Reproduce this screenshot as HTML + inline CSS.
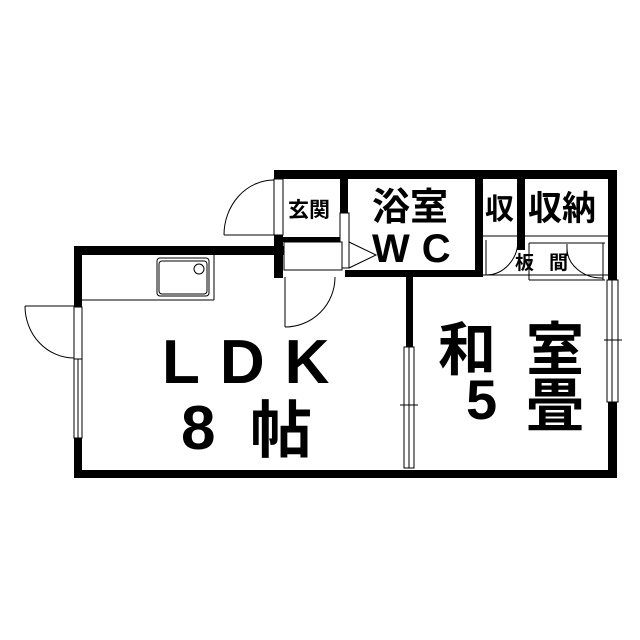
<!DOCTYPE html>
<html><head><meta charset="utf-8"><style>
html,body{margin:0;padding:0;background:#fff;}
svg{display:block}
text{font-family:"Liberation Sans","Noto Sans CJK JP",sans-serif;fill:#000;font-weight:bold}
</style></head><body>
<svg width="640" height="640" viewBox="0 0 640 640" xmlns="http://www.w3.org/2000/svg">
<rect width="640" height="640" fill="#fff"/>
<g fill="#000">
<rect x="274" y="170" width="343" height="9"/>
<rect x="608" y="170" width="9" height="308"/>
<rect x="274" y="235" width="9" height="43"/>
<rect x="283" y="237" width="60" height="5"/>
<rect x="340" y="179" width="8" height="34"/>
<rect x="345" y="270" width="138" height="7"/>
<rect x="475" y="170" width="8" height="107"/>
<rect x="517" y="170" width="8" height="80"/>
<rect x="74" y="246" width="210" height="9"/>
<rect x="74" y="246" width="8" height="62"/>
<rect x="74" y="437" width="8" height="41"/>
<rect x="74" y="470" width="543" height="8"/>
<rect x="406" y="277" width="7" height="70"/>
</g>
<g fill="#fff" stroke="#000" stroke-width="1">
<rect x="274" y="179" width="9" height="56"/>
<rect x="340" y="213" width="9" height="55"/>
<rect x="284" y="242" width="58" height="28"/>
<rect x="74" y="307" width="8" height="52"/>
<rect x="74" y="359" width="8" height="79"/>
<line x1="78" y1="359" x2="78" y2="438"/>
<rect x="404" y="347" width="10" height="121"/>
<line x1="409" y1="347" x2="409" y2="468"/>
<line x1="400" y1="405" x2="418" y2="405"/>
<rect x="607" y="280" width="11" height="122"/>
<line x1="612" y1="280" x2="612" y2="402"/>
<line x1="604" y1="340" x2="622" y2="340"/>
<rect x="157" y="258" width="52" height="38" rx="3"/>
<rect x="159" y="261" width="48" height="33" rx="3"/>
<circle cx="199" cy="269" r="5"/>
<line x1="82" y1="300" x2="214" y2="300"/>
<line x1="214" y1="255" x2="214" y2="300"/>
<line x1="483" y1="236" x2="608" y2="236"/>
<line x1="483" y1="275" x2="608" y2="275"/>
<line x1="529" y1="243" x2="605" y2="243"/>
<line x1="529" y1="243" x2="529" y2="280"/>
<line x1="603" y1="243" x2="603" y2="280"/>
<line x1="529" y1="280" x2="605" y2="280"/>
</g>
<g fill="none" stroke="#000" stroke-width="1">
<line x1="224" y1="235" x2="274" y2="235"/>
<path d="M224 235 A50 55 0 0 1 274 180"/>
<polyline points="349,242 376,255 349,268"/>
<line x1="285" y1="277" x2="285" y2="327"/>
<path d="M285 327 A50 50 0 0 0 335 277"/>
<line x1="25" y1="306" x2="74" y2="306"/>
<path d="M25 306 A49 52 0 0 0 74 358"/>
<line x1="486" y1="240" x2="486" y2="275"/>
<path d="M486 275 A32 35 0 0 0 518 240"/>
<path d="M567 248 A35 30 0 0 0 603 278"/>
<line x1="567" y1="244" x2="567" y2="256"/>
</g>
<g>
<text x="288" y="217" font-size="21">玄関</text>
<text x="372" y="220" font-size="38">浴室</text>
<text x="372" y="262" font-size="40" letter-spacing="12">WC</text>
<text x="485" y="219" font-size="29">収</text>
<text x="528" y="220" font-size="34">収納</text>
<text x="515" y="269" font-size="19">板</text>
<text x="549" y="269" font-size="19">間</text>
<text x="162" y="383" font-size="62" letter-spacing="20">LDK</text>
<text x="181" y="449" font-size="62">8</text>
<text x="250" y="452" font-size="62">帖</text>
<text x="438" y="370" font-size="58">和</text>
<text x="526" y="370" font-size="58">室</text>
<text x="466" y="419" font-size="56">5</text>
<text x="526" y="426" font-size="58">畳</text>
</g>
</svg>
</body></html>
